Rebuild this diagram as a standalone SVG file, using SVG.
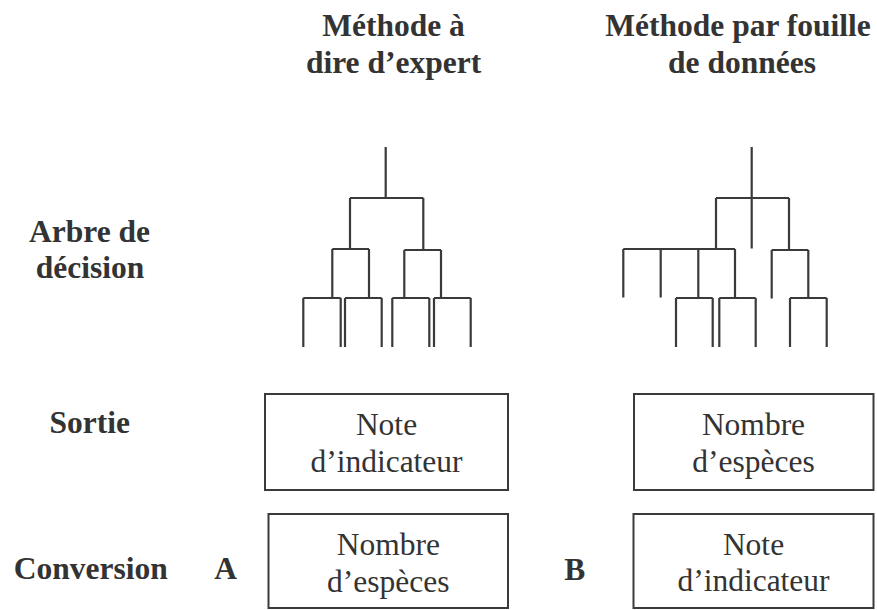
<svg xmlns="http://www.w3.org/2000/svg" width="877" height="610" viewBox="0 0 877 610">
<style>
.h{font-weight:bold;font-size:31.5px;fill:#333;text-anchor:middle}
.t{font-size:31.5px;fill:#333;text-anchor:middle}
.box{fill:#fff;stroke:#3a3a3a;stroke-width:2}
.tree{fill:none;stroke:#3a3a3a;stroke-width:2.2;stroke-linecap:butt}
</style>
<rect width="877" height="610" fill="#fff"/>
<g font-family="'Liberation Serif', 'DejaVu Serif', serif">
<g id="headers">
<text class="h" x="393.5" y="36">Méthode à</text>
<text class="h" x="393.5" y="72.5">dire d’expert</text>
<text class="h" x="738" y="36">Méthode par fouille</text>
<text class="h" x="742" y="72.5">de données</text>
</g>
<g id="row-labels">
<text class="h" x="89.5" y="241.5">Arbre de</text>
<text class="h" x="90" y="278">décision</text>
<text class="h" x="89.7" y="433">Sortie</text>
<text class="h" x="90.8" y="579">Conversion</text>
<text class="h" x="225.5" y="579">A</text>
<text class="h" x="574.7" y="580">B</text>
</g>
<g id="tree-expert" class="tree">
<path d="M385.7 147V198M350 198H423.3M350 198V249M423.3 198V250M332.3 249H369M404.3 250H441M332.3 249V298M369 249V298M404.3 250V298M441 250V298M303.3 298H340.7M345 298H381.7M392.3 298H429.3M434 298H470.7M303.3 298V347M340.7 298V347M345 298V347M381.7 298V347M392.3 298V347M429.3 298V347M434 298V347M470.7 298V347"/>
</g>
<g id="tree-data" class="tree">
<path d="M751.7 147V198M716 198H789M716 198V249M751.7 198V248.5M789 198V250M623.3 249H735M623.3 249V297.5M660.7 249V297.5M698.3 249V298M735 249V298M771.7 250H808.3M771.7 250V298.5M808.3 250V298M676 298H712.7M719.3 298H755.7M790 298H826.7M676 298V347M712.7 298V347M719.3 298V347M755.7 298V347M790 298V347M826.7 298V347"/>
</g>
<g id="sortie-a">
<rect class="box" x="265" y="394" width="243" height="96"/>
<text class="t" x="386.5" y="435">Note</text>
<text class="t" x="386.5" y="471.5">d’indicateur</text>
</g>
<g id="sortie-b">
<rect class="box" x="634" y="394" width="239.5" height="96"/>
<text class="t" x="753.5" y="435">Nombre</text>
<text class="t" x="753.5" y="471.5">d’espèces</text>
</g>
<g id="conversion-a">
<rect class="box" x="268.5" y="514" width="239.5" height="94"/>
<text class="t" x="388.3" y="555">Nombre</text>
<text class="t" x="388.3" y="591.5">d’espèces</text>
</g>
<g id="conversion-b">
<rect class="box" x="633.5" y="514" width="240" height="94"/>
<text class="t" x="753.5" y="554.5">Note</text>
<text class="t" x="753.5" y="590.5">d’indicateur</text>
</g>
</g>
</svg>
